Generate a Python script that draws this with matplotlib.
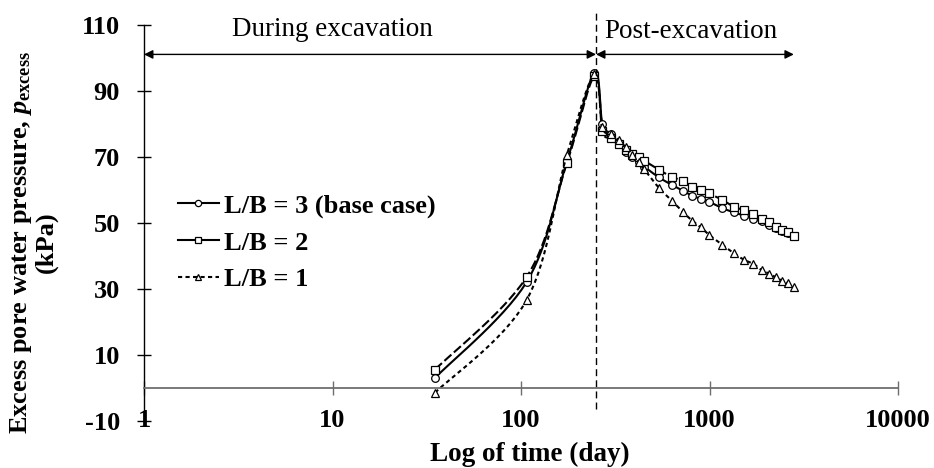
import numpy as np
import matplotlib
matplotlib.use('Agg')
import matplotlib.pyplot as plt
from matplotlib.lines import Line2D

# Time (day) - during excavation and post-excavation
t_during = [35, 107, 175, 245]
t_post = [270, 300, 330, 360, 390, 420, 450, 540, 630, 720, 810, 900, 990,
          1170, 1350, 1530, 1710, 1890, 2070, 2250, 2430, 2610, 2790]

# Excess pore water pressure (kPa)
lb3_during = [3, 32, 68.5, 95.5]
lb3_post = [80, 77, 74, 71.5, 69.8, 68.5, 67.0, 63.7, 61.5, 59.7, 58.2, 57.2, 56.4,
            54.4, 53.1, 52.1, 51.1, 50.4, 49.4, 48.4, 47.6, 46.9, 46.1]
lb2_during = [5.5, 33.5, 68, 94.5]
lb2_post = [77.8, 75.7, 73.8, 72.0, 70.8, 69.8, 68.8, 66.0, 63.9, 62.7, 60.9, 59.9, 58.9,
            56.9, 54.8, 53.8, 52.6, 51.1, 50.1, 48.8, 47.8, 47.1, 46.1]
lb1_during = [-1.5, 26.5, 70.5, 95]
lb1_post = [79, 77, 75, 72.8, 70.5, 68.3, 66.2, 60.5, 56.7, 53.3, 50.6, 48.6, 46.4,
            43.3, 40.7, 38.7, 37.5, 35.6, 34.6, 33.4, 32.4, 31.6, 30.4]

labels = ['L/B = 3 (base case)', 'L/B = 2', 'L/B = 1']
end_of_excavation = 250

plt.rcParams['font.family'] = ['Liberation Serif', 'DejaVu Serif']
plt.rcParams['axes.unicode_minus'] = False
plt.rcParams['mathtext.fontset'] = 'custom'
plt.rcParams['mathtext.rm'] = 'Liberation Serif:bold'
plt.rcParams['mathtext.it'] = 'Liberation Serif:bold:italic'
plt.rcParams['mathtext.bf'] = 'Liberation Serif:bold'


def smooth(x, y, n=16):
    # excel-like smoothed line (catmull-rom / bezier in log-x space)
    lx = np.log10(np.asarray(x, float))
    yy = np.asarray(y, float)
    P = np.column_stack([lx, yy])
    P = np.vstack([P[0], P, P[-1]])
    out = []
    s = np.linspace(0, 1, n)[:, None]
    for i in range(1, len(P) - 2):
        p0, p1, p2, p3 = P[i - 1], P[i], P[i + 1], P[i + 2]
        c1 = p1 + (p2 - p0) / 6
        c2 = p2 - (p3 - p1) / 6
        seg = ((1 - s) ** 3) * p1 + 3 * ((1 - s) ** 2) * s * c1 + 3 * (1 - s) * s ** 2 * c2 + s ** 3 * p2
        out.append(seg if i == 1 else seg[1:])
    out = np.vstack(out)
    return 10 ** out[:, 0], out[:, 1]


fig = plt.figure(figsize=(9.34, 4.68), dpi=100)
ax = fig.add_axes([0.1542, 0.1011, 0.8073, 0.8461])

t_all = t_during + t_post
series = [
    (lb3_during + lb3_post, 'o', '-', None),
    (lb2_during + lb2_post, 's', '--', (4.5, 1.6)),
    (lb1_during + lb1_post, '^', '--', (2.0, 1.6)),
]
handles = []
for (vals, mk, ls, dashes), lab in zip(series, labels):
    sx, sy = smooth(t_all, vals)
    kw = {}
    if dashes is not None:
        kw['dashes'] = dashes
    ax.plot(sx, sy, color='black', lw=1.5, ls=ls, **kw)
    ax.plot(t_all, vals, ls='none', marker=mk, ms=5.5, mfc='white', mec='black', mew=0.9)
    handles.append(Line2D([], [], color='black', lw=1.5, ls='-' if mk != '^' else '--',
                          dashes=(2.0, 1.6) if mk == '^' else (None, None),
                          marker=mk, ms=4.5, mfc='white', mec='black', mew=0.9))

ax.set_xscale('log')
ax.set_xlim(1, 10000)
ax.set_ylim(-10, 110)
ax.set_yticks([-10, 10, 30, 50, 70, 90, 110])
ax.set_xticks([1, 10, 100, 1000, 10000])
ax.xaxis.set_minor_locator(matplotlib.ticker.NullLocator())

ax.spines['top'].set_visible(False)
ax.spines['right'].set_visible(False)
ax.spines['bottom'].set_position(('data', 0))
ax.spines['bottom'].set_color('#6e6e6e')
ax.spines['bottom'].set_linewidth(1.3)
ax.spines['left'].set_linewidth(1.0)
ax.tick_params(axis='x', direction='inout', length=10, width=1.0, color='#6e6e6e', labelbottom=False)
ax.tick_params(axis='y', direction='inout', length=10.5, width=1.0, pad=12, labelsize=19)
for lab in ax.get_yticklabels():
    lab.set_fontweight('bold')

for xt in [1, 10, 100, 1000, 10000]:
    ax.text(xt, -10, str(xt), ha='center', va='center', fontsize=19, fontweight='bold')

# end of excavation marker line and phase arrows
ax.plot([end_of_excavation, end_of_excavation], [-6.5, 114], color='black', lw=1.0,
        dashes=(5, 3), clip_on=False)
arrow = dict(arrowstyle='<|-|>', color='black', lw=1.0, mutation_scale=13, shrinkA=0, shrinkB=0)
ax.annotate('', xy=(1, 101), xytext=(end_of_excavation, 101), arrowprops=arrow, annotation_clip=False)
ax.annotate('', xy=(end_of_excavation, 101), xytext=(2800, 101), arrowprops=arrow, annotation_clip=False)
ax.text(10, 108.5, 'During excavation', ha='center', va='center', fontsize=19.5)
ax.text(800, 108, 'Post-excavation', ha='center', va='center', fontsize=19.5)

ax.text(0.512, -0.084, 'Log of time (day)', transform=ax.transAxes, ha='center', va='center',
        fontsize=19.5, fontweight='bold')
ax.text(-0.147, 0.45, 'Excess pore water pressure, $p_{\\rm excess}$\n(kPa)', transform=ax.transAxes,
        rotation=90, ha='center', va='center', multialignment='center', fontsize=19,
        fontweight='bold', linespacing=1.0)

ax.legend(handles, labels, loc='center left', bbox_to_anchor=(0.045, 0.4495), frameon=False,
          prop={'weight': 'bold', 'size': 19}, handlelength=1.55, handletextpad=0.2,
          labelspacing=0.5, borderpad=0, borderaxespad=0)

fig.savefig('out.png', dpi=100)
